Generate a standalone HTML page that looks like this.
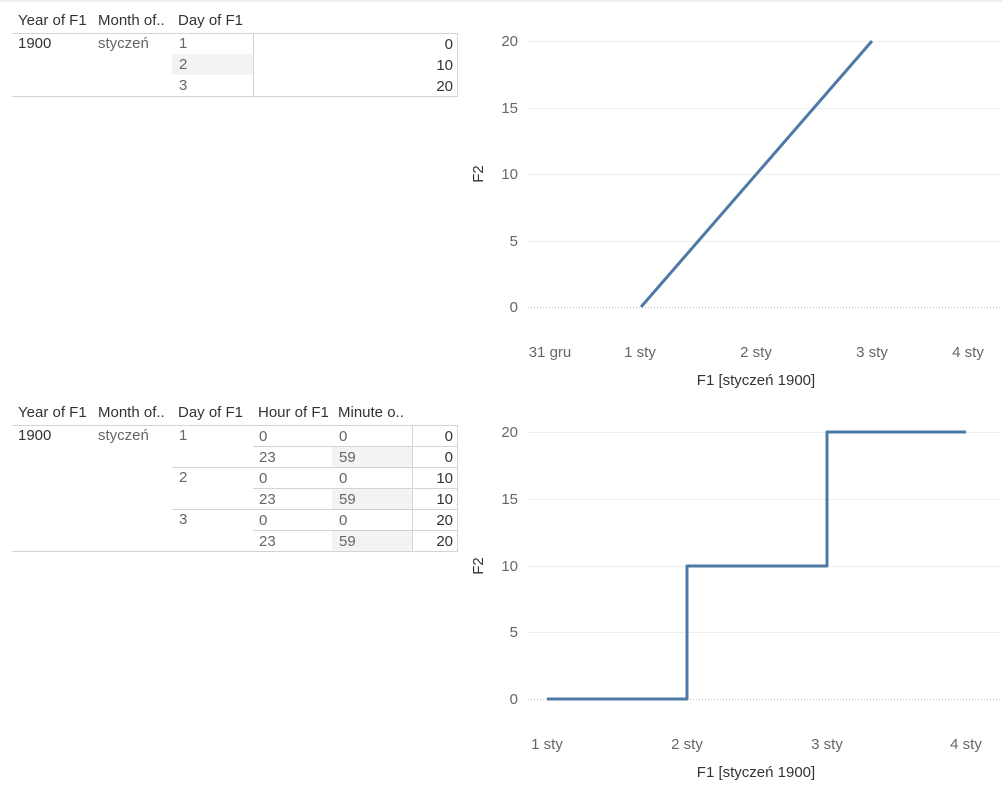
<!DOCTYPE html>
<html><head><meta charset="utf-8"><style>
body{margin:0;width:1002px;height:801px;background:#fff;font-family:"Liberation Sans",sans-serif;position:relative;overflow:hidden}
.t{position:absolute;font-size:15px;white-space:nowrap;line-height:16px}
.h{color:#333}
.v{color:#666}
.r{text-align:right}
.l{position:absolute;background:#d4d4d4}
.s{position:absolute;background:#f3f3f3}
</style></head><body>
<div style="position:absolute;left:0;top:0;width:1002px;height:2px;background:#eee"></div>
<!-- table 1 -->
<div class="s" style="left:172px;top:54px;width:81px;height:21px"></div>
<div class="t h" style="left:18px;top:13px">Year of F1</div>
<div class="t h" style="left:98px;top:13px">Month of..</div>
<div class="t h" style="left:178px;top:13px">Day of F1</div>
<div class="l" style="left:12px;top:33px;width:446px;height:1px"></div>
<div class="l" style="left:12px;top:96px;width:446px;height:1px"></div>
<div class="l" style="left:253px;top:33px;width:1px;height:63px"></div>
<div class="l" style="left:457px;top:33px;width:1px;height:64px"></div>
<div class="t h" style="left:18px;top:36px">1900</div>
<div class="t v" style="left:98px;top:36px">styczeń</div>
<div class="t v" style="left:179px;top:36px">1</div>
<div class="t v" style="left:179px;top:57px">2</div>
<div class="t v" style="left:179px;top:78px">3</div>
<div class="t h r" style="left:400px;width:53px;top:37px">0</div>
<div class="t h r" style="left:400px;width:53px;top:58px">10</div>
<div class="t h r" style="left:400px;width:53px;top:79px">20</div>
<!-- table 2 -->
<div class="s" style="left:332px;top:446px;width:80px;height:21px"></div>
<div class="s" style="left:332px;top:488px;width:80px;height:21px"></div>
<div class="s" style="left:332px;top:530px;width:80px;height:21px"></div>
<div class="t h" style="left:18px;top:405px">Year of F1</div>
<div class="t h" style="left:98px;top:405px">Month of..</div>
<div class="t h" style="left:178px;top:405px">Day of F1</div>
<div class="t h" style="left:258px;top:405px">Hour of F1</div>
<div class="t h" style="left:338px;top:405px">Minute o..</div>
<div class="l" style="left:12px;top:425px;width:446px;height:1px"></div>
<div class="l" style="left:12px;top:551px;width:446px;height:1px"></div>
<div class="l" style="left:253px;top:446px;width:205px;height:1px"></div>
<div class="l" style="left:172px;top:467px;width:286px;height:1px"></div>
<div class="l" style="left:253px;top:488px;width:205px;height:1px"></div>
<div class="l" style="left:172px;top:509px;width:286px;height:1px"></div>
<div class="l" style="left:253px;top:530px;width:205px;height:1px"></div>
<div class="l" style="left:412px;top:425px;width:1px;height:126px"></div>
<div class="l" style="left:457px;top:425px;width:1px;height:127px"></div>
<div class="t h" style="left:18px;top:428px">1900</div>
<div class="t v" style="left:98px;top:428px">styczeń</div>
<div class="t v" style="left:179px;top:428px">1</div>
<div class="t v" style="left:179px;top:470px">2</div>
<div class="t v" style="left:179px;top:512px">3</div>
<div class="t v" style="left:259px;top:429px">0</div><div class="t v" style="left:339px;top:429px">0</div>
<div class="t v" style="left:259px;top:450px">23</div><div class="t v" style="left:339px;top:450px">59</div>
<div class="t v" style="left:259px;top:471px">0</div><div class="t v" style="left:339px;top:471px">0</div>
<div class="t v" style="left:259px;top:492px">23</div><div class="t v" style="left:339px;top:492px">59</div>
<div class="t v" style="left:259px;top:513px">0</div><div class="t v" style="left:339px;top:513px">0</div>
<div class="t v" style="left:259px;top:534px">23</div><div class="t v" style="left:339px;top:534px">59</div>
<div class="t h r" style="left:400px;width:53px;top:429px">0</div>
<div class="t h r" style="left:400px;width:53px;top:450px">0</div>
<div class="t h r" style="left:400px;width:53px;top:471px">10</div>
<div class="t h r" style="left:400px;width:53px;top:492px">10</div>
<div class="t h r" style="left:400px;width:53px;top:513px">20</div>
<div class="t h r" style="left:400px;width:53px;top:534px">20</div>
<svg width="1002" height="801" style="position:absolute;left:0;top:0" font-family="Liberation Sans, sans-serif" font-size="15">
<g stroke="#eeeeee" stroke-width="1">
<line x1="528" x2="1000" y1="41.5" y2="41.5"/><line x1="528" x2="1000" y1="108.5" y2="108.5"/><line x1="528" x2="1000" y1="174.5" y2="174.5"/><line x1="528" x2="1000" y1="241.5" y2="241.5"/>
<line x1="528" x2="1000" y1="432.5" y2="432.5"/><line x1="528" x2="1000" y1="499.5" y2="499.5"/><line x1="528" x2="1000" y1="566.5" y2="566.5"/><line x1="528" x2="1000" y1="632.5" y2="632.5"/>
</g>
<g stroke="#bbb" stroke-dasharray="1,2"><line x1="528" x2="1000" y1="307.5" y2="307.5"/><line x1="528" x2="1000" y1="699.5" y2="699.5"/></g>
<g fill="#666" text-anchor="end">
<text x="518" y="46">20</text><text x="518" y="113">15</text><text x="518" y="179">10</text><text x="518" y="246">5</text><text x="518" y="312">0</text>
<text x="518" y="437">20</text><text x="518" y="504">15</text><text x="518" y="571">10</text><text x="518" y="637">5</text><text x="518" y="704">0</text>
</g>
<g fill="#666" text-anchor="middle">
<text x="550" y="357">31 gru</text><text x="640" y="357">1 sty</text><text x="756" y="357">2 sty</text><text x="872" y="357">3 sty</text><text x="968" y="357">4 sty</text>
<text x="547" y="749">1 sty</text><text x="687" y="749">2 sty</text><text x="827" y="749">3 sty</text><text x="966" y="749">4 sty</text>
</g>
<g fill="#333" text-anchor="middle">
<text x="756" y="385">F1 [styczeń 1900]</text><text x="756" y="777">F1 [styczeń 1900]</text>
<text transform="translate(483,174) rotate(-90)">F2</text><text transform="translate(483,566) rotate(-90)">F2</text>
</g>
<g fill="none" stroke="#4e79a7" stroke-width="3" stroke-linejoin="round">
<polyline points="641,307 872,41"/>
<polyline points="547,699 687,699 687,566 827,566 827,432 966,432"/>
</g>
</svg>
</body></html>
